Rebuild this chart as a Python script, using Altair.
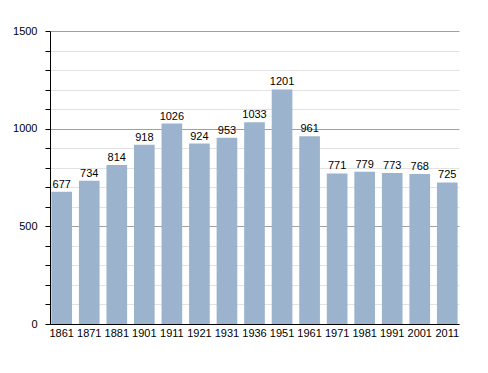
import altair as alt
import pandas as pd

years = ["1861", "1871", "1881", "1901", "1911", "1921", "1931", "1936",
         "1951", "1961", "1971", "1981", "1991", "2001", "2011"]
values = [677, 734, 814, 918, 1026, 924, 953, 1033, 1201, 961, 771, 779, 773, 768, 725]
ytick_values = list(range(0, 1501, 100))

df = pd.DataFrame({"year": years, "pop": values})

x = alt.X("year:N", sort=years, title=None,
          scale=alt.Scale(paddingInner=0.25, paddingOuter=0.05),
          axis=alt.Axis(labelAngle=0, ticks=False, domainColor="black",
                        labelPadding=3, labelFontSize=11, labelColor="black",
                        labelFont="Liberation Sans", labelOverlap=False))
y = alt.Y("pop:Q", title=None,
          scale=alt.Scale(domain=[0, 1500], nice=False),
          axis=alt.Axis(values=ytick_values,
                        labelExpr="datum.value % 500 == 0 ? datum.label : ''",
                        format="d", domainColor="black", tickColor="black",
                        tickSize=5, labelPadding=8, labelFontSize=11,
                        labelColor="black", labelFont="Liberation Sans",
                        labelOverlap=False, labelBound=False, labelFlush=False,
                        grid=True,
                        gridColor={"condition": {"test": "datum.value % 500 == 0", "value": "#a0a0a0"},
                                   "value": "#e2e2e2"}))

base = alt.Chart(df).encode(x=x, y=y)
bars = base.mark_bar(color="#9bb3cd")
labels = base.mark_text(baseline="bottom", dy=-2, fontSize=11,
                        font="Liberation Sans", color="black").encode(text="pop:Q")

chart = (bars + labels).properties(
    width=409, height=293,
    autosize=alt.AutoSizeParams(type="none"),
    padding={"left": 42, "top": 23, "right": 21, "bottom": 41},
).configure_view(stroke=None)

chart.save("out.html", embed_options={"renderer": "svg", "actions": False})
